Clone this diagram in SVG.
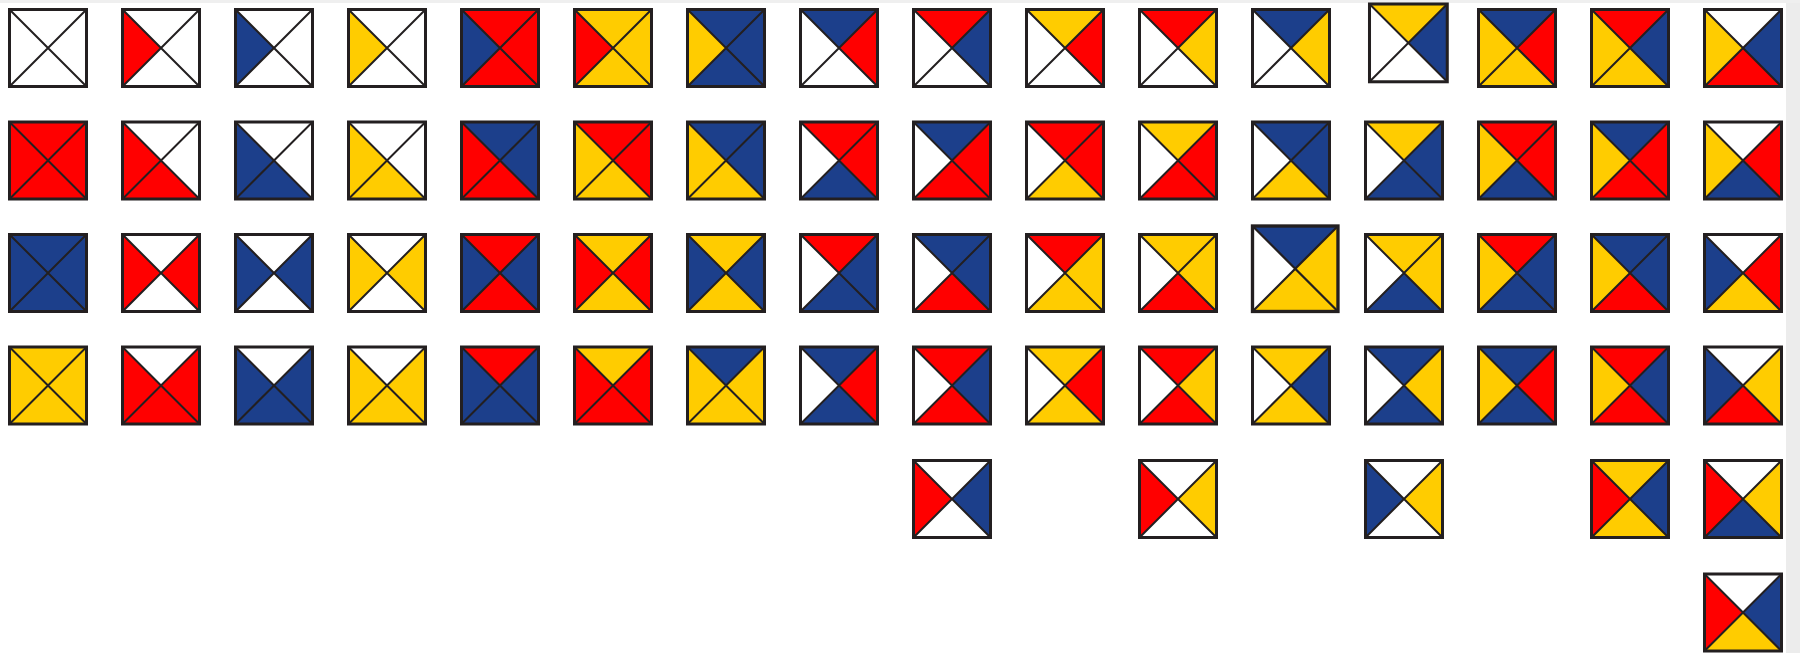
<svg xmlns="http://www.w3.org/2000/svg" xmlns:xlink="http://www.w3.org/1999/xlink" width="1800" height="653" viewBox="0 0 1800 653">
<style>
.w{fill:#ffffff}.r{fill:#ff0000}.b{fill:#1c3f8b}.y{fill:#ffcc00}
.fr{stroke:#231f20;fill:none}
</style>
<defs>
<path id="T" d="M0 0H77L38.5 38.5Z"/>
<path id="R" d="M77 0V77L38.5 38.5Z"/>
<path id="B" d="M0 77H77L38.5 38.5Z"/>
<path id="L" d="M0 0V77L38.5 38.5Z"/>
<g id="F" class="fr"><path d="M0 0L77 77M77 0L0 77" stroke-width="2"/><rect x="0" y="0" width="77" height="77" stroke-width="3"/></g>
</defs>
<rect width="1800" height="653" fill="#ffffff"/>
<rect x="1786" y="0" width="14" height="653" fill="#ececec"/>
<rect x="0" y="0" width="1800" height="3" fill="#efefef"/>
<g id="r1">
<g id="r1c1" transform="translate(9.5,9.5)"><use href="#T" class="w"/><use href="#R" class="w"/><use href="#B" class="w"/><use href="#L" class="w"/><use href="#F"/></g>
<g id="r1c2" transform="translate(122.5,9.5)"><use href="#T" class="w"/><use href="#R" class="w"/><use href="#B" class="w"/><use href="#L" class="r"/><use href="#F"/></g>
<g id="r1c3" transform="translate(235.5,9.5)"><use href="#T" class="w"/><use href="#R" class="w"/><use href="#B" class="w"/><use href="#L" class="b"/><use href="#F"/></g>
<g id="r1c4" transform="translate(348.5,9.5)"><use href="#T" class="w"/><use href="#R" class="w"/><use href="#B" class="w"/><use href="#L" class="y"/><use href="#F"/></g>
<g id="r1c5" transform="translate(461.5,9.5)"><use href="#T" class="r"/><use href="#R" class="r"/><use href="#B" class="r"/><use href="#L" class="b"/><use href="#F"/></g>
<g id="r1c6" transform="translate(574.5,9.5)"><use href="#T" class="y"/><use href="#R" class="y"/><use href="#B" class="y"/><use href="#L" class="r"/><use href="#F"/></g>
<g id="r1c7" transform="translate(687.5,9.5)"><use href="#T" class="b"/><use href="#R" class="b"/><use href="#B" class="b"/><use href="#L" class="y"/><use href="#F"/></g>
<g id="r1c8" transform="translate(800.5,9.5)"><use href="#T" class="b"/><use href="#R" class="r"/><use href="#B" class="w"/><use href="#L" class="w"/><use href="#F"/></g>
<g id="r1c9" transform="translate(913.5,9.5)"><use href="#T" class="r"/><use href="#R" class="b"/><use href="#B" class="w"/><use href="#L" class="w"/><use href="#F"/></g>
<g id="r1c10" transform="translate(1026.5,9.5)"><use href="#T" class="y"/><use href="#R" class="r"/><use href="#B" class="w"/><use href="#L" class="w"/><use href="#F"/></g>
<g id="r1c11" transform="translate(1139.5,9.5)"><use href="#T" class="r"/><use href="#R" class="y"/><use href="#B" class="w"/><use href="#L" class="w"/><use href="#F"/></g>
<g id="r1c12" transform="translate(1252.5,9.5)"><use href="#T" class="b"/><use href="#R" class="y"/><use href="#B" class="w"/><use href="#L" class="w"/><use href="#F"/></g>
<g id="r1c13" transform="translate(1369.5,4) scale(1.01)"><use href="#T" class="y"/><use href="#R" class="b"/><use href="#B" class="w"/><use href="#L" class="w"/><use href="#F"/></g>
<g id="r1c14" transform="translate(1478.5,9.5)"><use href="#T" class="b"/><use href="#R" class="r"/><use href="#B" class="y"/><use href="#L" class="y"/><use href="#F"/></g>
<g id="r1c15" transform="translate(1591.5,9.5)"><use href="#T" class="r"/><use href="#R" class="b"/><use href="#B" class="y"/><use href="#L" class="y"/><use href="#F"/></g>
<g id="r1c16" transform="translate(1704.5,9.5)"><use href="#T" class="w"/><use href="#R" class="b"/><use href="#B" class="r"/><use href="#L" class="y"/><use href="#F"/></g>
</g>
<g id="r2">
<g id="r2c1" transform="translate(9.5,122)"><use href="#T" class="r"/><use href="#R" class="r"/><use href="#B" class="r"/><use href="#L" class="r"/><use href="#F"/></g>
<g id="r2c2" transform="translate(122.5,122)"><use href="#T" class="w"/><use href="#R" class="w"/><use href="#B" class="r"/><use href="#L" class="r"/><use href="#F"/></g>
<g id="r2c3" transform="translate(235.5,122)"><use href="#T" class="w"/><use href="#R" class="w"/><use href="#B" class="b"/><use href="#L" class="b"/><use href="#F"/></g>
<g id="r2c4" transform="translate(348.5,122)"><use href="#T" class="w"/><use href="#R" class="w"/><use href="#B" class="y"/><use href="#L" class="y"/><use href="#F"/></g>
<g id="r2c5" transform="translate(461.5,122)"><use href="#T" class="b"/><use href="#R" class="b"/><use href="#B" class="r"/><use href="#L" class="r"/><use href="#F"/></g>
<g id="r2c6" transform="translate(574.5,122)"><use href="#T" class="r"/><use href="#R" class="r"/><use href="#B" class="y"/><use href="#L" class="y"/><use href="#F"/></g>
<g id="r2c7" transform="translate(687.5,122)"><use href="#T" class="b"/><use href="#R" class="b"/><use href="#B" class="y"/><use href="#L" class="y"/><use href="#F"/></g>
<g id="r2c8" transform="translate(800.5,122)"><use href="#T" class="r"/><use href="#R" class="r"/><use href="#B" class="b"/><use href="#L" class="w"/><use href="#F"/></g>
<g id="r2c9" transform="translate(913.5,122)"><use href="#T" class="b"/><use href="#R" class="r"/><use href="#B" class="r"/><use href="#L" class="w"/><use href="#F"/></g>
<g id="r2c10" transform="translate(1026.5,122)"><use href="#T" class="r"/><use href="#R" class="r"/><use href="#B" class="y"/><use href="#L" class="w"/><use href="#F"/></g>
<g id="r2c11" transform="translate(1139.5,122)"><use href="#T" class="y"/><use href="#R" class="r"/><use href="#B" class="r"/><use href="#L" class="w"/><use href="#F"/></g>
<g id="r2c12" transform="translate(1252.5,122)"><use href="#T" class="b"/><use href="#R" class="b"/><use href="#B" class="y"/><use href="#L" class="w"/><use href="#F"/></g>
<g id="r2c13" transform="translate(1365.5,122)"><use href="#T" class="y"/><use href="#R" class="b"/><use href="#B" class="b"/><use href="#L" class="w"/><use href="#F"/></g>
<g id="r2c14" transform="translate(1478.5,122)"><use href="#T" class="r"/><use href="#R" class="r"/><use href="#B" class="b"/><use href="#L" class="y"/><use href="#F"/></g>
<g id="r2c15" transform="translate(1591.5,122)"><use href="#T" class="b"/><use href="#R" class="r"/><use href="#B" class="r"/><use href="#L" class="y"/><use href="#F"/></g>
<g id="r2c16" transform="translate(1704.5,122)"><use href="#T" class="w"/><use href="#R" class="r"/><use href="#B" class="b"/><use href="#L" class="y"/><use href="#F"/></g>
</g>
<g id="r3">
<g id="r3c1" transform="translate(9.5,234.5)"><use href="#T" class="b"/><use href="#R" class="b"/><use href="#B" class="b"/><use href="#L" class="b"/><use href="#F"/></g>
<g id="r3c2" transform="translate(122.5,234.5)"><use href="#T" class="w"/><use href="#R" class="r"/><use href="#B" class="w"/><use href="#L" class="r"/><use href="#F"/></g>
<g id="r3c3" transform="translate(235.5,234.5)"><use href="#T" class="w"/><use href="#R" class="b"/><use href="#B" class="w"/><use href="#L" class="b"/><use href="#F"/></g>
<g id="r3c4" transform="translate(348.5,234.5)"><use href="#T" class="w"/><use href="#R" class="y"/><use href="#B" class="w"/><use href="#L" class="y"/><use href="#F"/></g>
<g id="r3c5" transform="translate(461.5,234.5)"><use href="#T" class="r"/><use href="#R" class="b"/><use href="#B" class="r"/><use href="#L" class="b"/><use href="#F"/></g>
<g id="r3c6" transform="translate(574.5,234.5)"><use href="#T" class="y"/><use href="#R" class="r"/><use href="#B" class="y"/><use href="#L" class="r"/><use href="#F"/></g>
<g id="r3c7" transform="translate(687.5,234.5)"><use href="#T" class="y"/><use href="#R" class="b"/><use href="#B" class="y"/><use href="#L" class="b"/><use href="#F"/></g>
<g id="r3c8" transform="translate(800.5,234.5)"><use href="#T" class="r"/><use href="#R" class="b"/><use href="#B" class="b"/><use href="#L" class="w"/><use href="#F"/></g>
<g id="r3c9" transform="translate(913.5,234.5)"><use href="#T" class="b"/><use href="#R" class="b"/><use href="#B" class="r"/><use href="#L" class="w"/><use href="#F"/></g>
<g id="r3c10" transform="translate(1026.5,234.5)"><use href="#T" class="r"/><use href="#R" class="y"/><use href="#B" class="y"/><use href="#L" class="w"/><use href="#F"/></g>
<g id="r3c11" transform="translate(1139.5,234.5)"><use href="#T" class="y"/><use href="#R" class="y"/><use href="#B" class="r"/><use href="#L" class="w"/><use href="#F"/></g>
<g id="r3c12" transform="translate(1252.5,226) scale(1.11)"><use href="#T" class="b"/><use href="#R" class="y"/><use href="#B" class="y"/><use href="#L" class="w"/><use href="#F"/></g>
<g id="r3c13" transform="translate(1365.5,234.5)"><use href="#T" class="y"/><use href="#R" class="y"/><use href="#B" class="b"/><use href="#L" class="w"/><use href="#F"/></g>
<g id="r3c14" transform="translate(1478.5,234.5)"><use href="#T" class="r"/><use href="#R" class="b"/><use href="#B" class="b"/><use href="#L" class="y"/><use href="#F"/></g>
<g id="r3c15" transform="translate(1591.5,234.5)"><use href="#T" class="b"/><use href="#R" class="b"/><use href="#B" class="r"/><use href="#L" class="y"/><use href="#F"/></g>
<g id="r3c16" transform="translate(1704.5,234.5)"><use href="#T" class="w"/><use href="#R" class="r"/><use href="#B" class="y"/><use href="#L" class="b"/><use href="#F"/></g>
</g>
<g id="r4">
<g id="r4c1" transform="translate(9.5,347)"><use href="#T" class="y"/><use href="#R" class="y"/><use href="#B" class="y"/><use href="#L" class="y"/><use href="#F"/></g>
<g id="r4c2" transform="translate(122.5,347)"><use href="#T" class="w"/><use href="#R" class="r"/><use href="#B" class="r"/><use href="#L" class="r"/><use href="#F"/></g>
<g id="r4c3" transform="translate(235.5,347)"><use href="#T" class="w"/><use href="#R" class="b"/><use href="#B" class="b"/><use href="#L" class="b"/><use href="#F"/></g>
<g id="r4c4" transform="translate(348.5,347)"><use href="#T" class="w"/><use href="#R" class="y"/><use href="#B" class="y"/><use href="#L" class="y"/><use href="#F"/></g>
<g id="r4c5" transform="translate(461.5,347)"><use href="#T" class="r"/><use href="#R" class="b"/><use href="#B" class="b"/><use href="#L" class="b"/><use href="#F"/></g>
<g id="r4c6" transform="translate(574.5,347)"><use href="#T" class="y"/><use href="#R" class="r"/><use href="#B" class="r"/><use href="#L" class="r"/><use href="#F"/></g>
<g id="r4c7" transform="translate(687.5,347)"><use href="#T" class="b"/><use href="#R" class="y"/><use href="#B" class="y"/><use href="#L" class="y"/><use href="#F"/></g>
<g id="r4c8" transform="translate(800.5,347)"><use href="#T" class="b"/><use href="#R" class="r"/><use href="#B" class="b"/><use href="#L" class="w"/><use href="#F"/></g>
<g id="r4c9" transform="translate(913.5,347)"><use href="#T" class="r"/><use href="#R" class="b"/><use href="#B" class="r"/><use href="#L" class="w"/><use href="#F"/></g>
<g id="r4c10" transform="translate(1026.5,347)"><use href="#T" class="y"/><use href="#R" class="r"/><use href="#B" class="y"/><use href="#L" class="w"/><use href="#F"/></g>
<g id="r4c11" transform="translate(1139.5,347)"><use href="#T" class="r"/><use href="#R" class="y"/><use href="#B" class="r"/><use href="#L" class="w"/><use href="#F"/></g>
<g id="r4c12" transform="translate(1252.5,347)"><use href="#T" class="y"/><use href="#R" class="b"/><use href="#B" class="y"/><use href="#L" class="w"/><use href="#F"/></g>
<g id="r4c13" transform="translate(1365.5,347)"><use href="#T" class="b"/><use href="#R" class="y"/><use href="#B" class="b"/><use href="#L" class="w"/><use href="#F"/></g>
<g id="r4c14" transform="translate(1478.5,347)"><use href="#T" class="b"/><use href="#R" class="r"/><use href="#B" class="b"/><use href="#L" class="y"/><use href="#F"/></g>
<g id="r4c15" transform="translate(1591.5,347)"><use href="#T" class="r"/><use href="#R" class="b"/><use href="#B" class="r"/><use href="#L" class="y"/><use href="#F"/></g>
<g id="r4c16" transform="translate(1704.5,347)"><use href="#T" class="w"/><use href="#R" class="y"/><use href="#B" class="r"/><use href="#L" class="b"/><use href="#F"/></g>
</g>
<g id="r5">
<g id="r5c9" transform="translate(913.5,460.5)"><use href="#T" class="w"/><use href="#R" class="b"/><use href="#B" class="w"/><use href="#L" class="r"/><use href="#F"/></g>
<g id="r5c11" transform="translate(1139.5,460.5)"><use href="#T" class="w"/><use href="#R" class="y"/><use href="#B" class="w"/><use href="#L" class="r"/><use href="#F"/></g>
<g id="r5c13" transform="translate(1365.5,460.5)"><use href="#T" class="w"/><use href="#R" class="y"/><use href="#B" class="w"/><use href="#L" class="b"/><use href="#F"/></g>
<g id="r5c15" transform="translate(1591.5,460.5)"><use href="#T" class="y"/><use href="#R" class="b"/><use href="#B" class="y"/><use href="#L" class="r"/><use href="#F"/></g>
<g id="r5c16" transform="translate(1704.5,460.5)"><use href="#T" class="w"/><use href="#R" class="y"/><use href="#B" class="b"/><use href="#L" class="r"/><use href="#F"/></g>
</g>
<g id="r6">
<g id="r6c16" transform="translate(1704.5,574)"><use href="#T" class="w"/><use href="#R" class="b"/><use href="#B" class="y"/><use href="#L" class="r"/><use href="#F"/></g>
</g>
</svg>
